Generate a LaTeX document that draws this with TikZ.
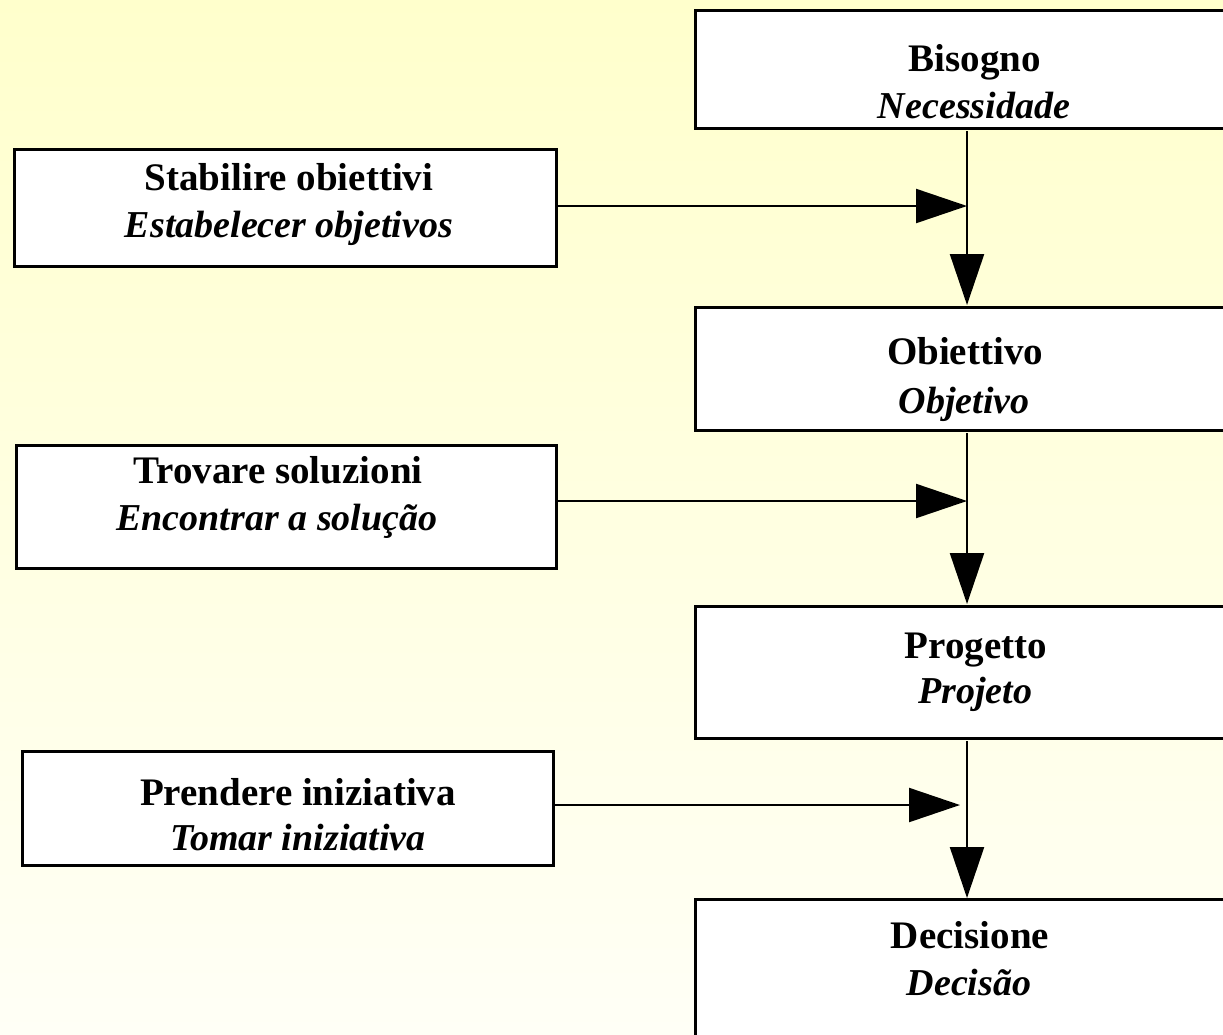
\documentclass[tikz,border=0pt]{standalone}
\usepackage{fontspec}
\setmainfont{Liberation Serif}
\usetikzlibrary{arrows.meta,calc}
\definecolor{bgtop}{RGB}{255,255,204}
\definecolor{bgbot}{RGB}{255,255,246}
\begin{document}
\begin{tikzpicture}[x=1pt,y=-1pt,
  boxnode/.style={draw=black,line width=3pt,fill=white,rectangle,inner sep=0pt,outer sep=0pt,anchor=north west},
  bt/.style={anchor=base,inner sep=0pt,font=\fontsize{39}{47}\selectfont\bfseries},
  it/.style={anchor=base,inner sep=0pt,font=\fontsize{38}{47}\selectfont\bfseries\itshape},
  arr/.style={line width=2.2pt,-{Triangle[length=51pt,width=34pt]}}]
\useasboundingbox (0,0) rectangle (1223,1034);
\shade[shading angle=-35,top color=bgtop,bottom color=bgbot] (0,0) rectangle (1223,1034);
\clip (0,0) rectangle (1223,1034);
\coordinate (spine) at (967,0);
% right column
\node[boxnode,minimum width=560pt,minimum height=118pt] (n1) at (695,10) {};
\node[boxnode,minimum width=560pt,minimum height=123pt] (n2) at (695,307) {};
\node[boxnode,minimum width=560pt,minimum height=132pt] (n3) at (695,606) {};
\node[boxnode,minimum width=560pt,minimum height=160pt] (n4) at (695,899) {};
% left column
\node[boxnode,minimum width=542pt,minimum height=117pt] (s1) at (14,149) {};
\node[boxnode,minimum width=540pt,minimum height=123pt] (s2) at (16,445) {};
\node[boxnode,minimum width=531pt,minimum height=114pt] (s3) at (22,751) {};
% texts
\node[bt] (n1a) at (975,71) {Bisogno};
\node[it] (n1b) at (974,118) {Necessidade};
\node[bt] (n2a) at (965,364) {Obiettivo};
\node[it] (n2b) at (964,413) {Objetivo};
\node[bt] (n3a) at (976,658) {Progetto};
\node[it] (n3b) at (975,703) {Projeto};
\node[bt] (n4a) at (970,948) {Decisione};
\node[it] (n4b) at (969,995) {Decisão};
\node[bt] (s1a) at (289,190) {Stabilire obiettivi};
\node[it] (s1b) at (289,237) {Estabelecer objetivos};
\node[bt] (s2a) at (278,483) {Trovare soluzioni};
\node[it] (s2b) at (277,530) {Encontrar a solução};
\node[bt] (s3a) at (298,805) {Prendere iniziativa};
\node[it] (s3b) at (298,850) {Tomar iniziativa};
% vertical connectors
\draw[arr,shorten <=3pt,shorten >=2pt] (n1.south -| spine) -- (n2.north -| spine);
\draw[arr,shorten <=3pt,shorten >=2pt] (n2.south -| spine) -- (n3.north -| spine);
\draw[arr,shorten <=3pt,shorten >=1pt] (n3.south -| spine) -- (n4.north -| spine);
% horizontal connectors
\draw[arr] ([yshift=1.5pt]s1.east) -- ([yshift=1.5pt]s1.east -| spine);
\draw[arr] ([yshift=5.5pt]s2.east) -- ([yshift=5.5pt]s2.east -| spine);
\draw[arr,shorten >=7pt] ([yshift=3pt]s3.east) -- ([yshift=3pt]s3.east -| spine);
\end{tikzpicture}
\end{document}
